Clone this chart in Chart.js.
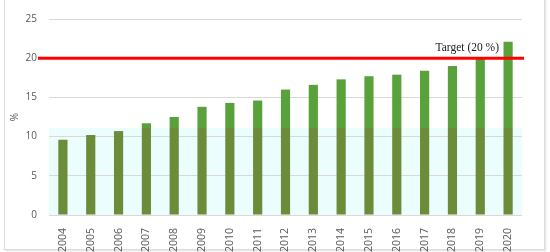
<!DOCTYPE html>
<html>
<head>
<meta charset="utf-8">
<script src="https://cdn.jsdelivr.net/npm/chart.js@4.4.1/dist/chart.umd.min.js"></script>
<style>
  html, body { margin: 0; padding: 0; background: #fff; }
  #wrap { position: relative; width: 550px; height: 252px; }
  #frame {
    position: absolute; left: 4px; top: -2px; width: 539px; height: 250px;
    border: 1px solid #dcdcdc; box-shadow: 1px 1px 2px rgba(0,0,0,0.12);
    pointer-events: none;
  }
  canvas { position: absolute; left: 0; top: 0; }
</style>
</head>
<body>
<div id="wrap">
  <div id="frame"></div>
  <canvas id="chart" width="550" height="252"></canvas>
</div>
<script>
const years = ['2004', '2005', '2006', '2007', '2008', '2009', '2010', '2011', '2012',
  '2013', '2014', '2015', '2016', '2017', '2018', '2019', '2020']
const shareValues = [9.6, 10.2, 10.7, 11.7, 12.5, 13.8, 14.3, 14.6, 16.0,
  16.6, 17.3, 17.7, 17.9, 18.4, 19.0, 19.9, 22.1]
const yTicks = [0, 5, 10, 15, 20, 25]
const targetValue = 20
const targetLabel = 'Target (20 %)'
// the lower part of the picture has a faded tint up to about this value
const tintLevel = 11.1

const lowerPart = shareValues.map(v => Math.min(v, tintLevel))
const upperPart = shareValues.map(v => Math.max(v - tintLevel, 0))

const tickFont = { family: 'Open Sans', size: 10 }
const xTickFont = { family: 'Open Sans', size: 10.5 }

// faint cyan band behind the lower part of the plot
const tintBand = {
  id: 'tintBand',
  beforeDraw (chart) {
    const { ctx, chartArea, scales } = chart
    const yTop = scales.y.getPixelForValue(tintLevel)
    const yBot = scales.y.getPixelForValue(0)
    ctx.save()
    ctx.fillStyle = 'rgba(215, 252, 252, 0.5)'
    ctx.fillRect(chartArea.left, yTop, chartArea.right - chartArea.left, yBot - yTop)
    ctx.restore()
  }
}

// red target line with its label
const targetLine = {
  id: 'targetLine',
  afterDatasetsDraw (chart) {
    const { ctx, chartArea, scales } = chart
    const y = scales.y.getPixelForValue(targetValue)
    ctx.save()
    ctx.strokeStyle = '#ff0000'
    ctx.lineWidth = 3
    ctx.beginPath()
    ctx.moveTo(chartArea.left - 11, y)
    ctx.lineTo(chartArea.right + 2, y)
    ctx.stroke()
    ctx.fillStyle = '#1a1a1a'
    ctx.font = '11.5px "Liberation Serif"'
    ctx.textAlign = 'right'
    ctx.textBaseline = 'alphabetic'
    ctx.fillText(targetLabel, chartArea.right - 23, y - 7)
    ctx.restore()
  }
}

new Chart(document.getElementById('chart'), {
  type: 'bar',
  data: {
    labels: years,
    datasets: [
      {
        label: 'lower',
        data: lowerPart,
        backgroundColor: '#6c8c39',
        barPercentage: 0.33,
        categoryPercentage: 1
      },
      {
        label: 'upper',
        data: upperPart,
        backgroundColor: '#58a13b',
        barPercentage: 0.33,
        categoryPercentage: 1
      }
    ]
  },
  plugins: [tintBand, targetLine],
  options: {
    responsive: false,
    devicePixelRatio: 1,
    animation: false,
    layout: { padding: { left: 0, right: 28, top: 19, bottom: 0 } },
    plugins: {
      legend: { display: false },
      tooltip: { enabled: false }
    },
    scales: {
      x: {
        stacked: true,
        grid: { display: false },
        border: { display: false },
        ticks: {
          color: '#595959',
          font: xTickFont,
          minRotation: 90,
          maxRotation: 90,
          padding: 5
        },
        afterFit (scale) { scale.height = 37 }
      },
      y: {
        stacked: true,
        min: 0,
        max: 25,
        afterBuildTicks (scale) { scale.ticks = yTicks.map(v => ({ value: v })) },
        grid: { color: '#d9d9d9', drawTicks: false },
        border: { display: false },
        ticks: { color: '#595959', font: tickFont, padding: 12 },
        title: {
          display: true,
          text: '%',
          color: '#595959',
          font: tickFont,
          padding: { top: 9, bottom: 0 }
        },
        afterFit (scale) { scale.width = 49 }
      }
    }
  }
})
</script>
</body>
</html>
